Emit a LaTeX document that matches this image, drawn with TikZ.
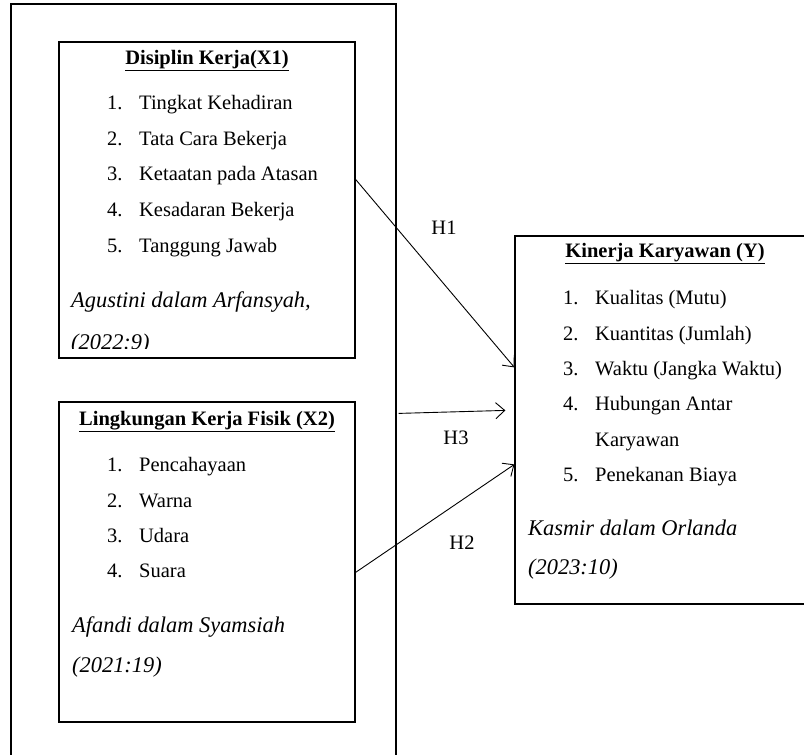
\documentclass[tikz,border=0pt]{standalone}
\usepackage{fontspec}
\setmainfont{Liberation Serif}
\usetikzlibrary{arrows.meta,calc}
\newcommand{\itm}[2]{\makebox[32pt][l]{#1}#2}
\begin{document}
\begin{tikzpicture}[x=1pt,y=-1pt,
  box/.style={draw,line width=1.2pt,inner sep=0,rectangle},
  txt/.style={anchor=mid west,inner sep=0,font=\fontsize{20.5}{24}\selectfont},
  ttl/.style={anchor=mid,inner sep=0,font=\fontsize{20.5}{24}\selectfont\bfseries},
  itx/.style={anchor=mid west,inner sep=0,font=\fontsize{22.4}{26}\selectfont\itshape},
  lbl/.style={anchor=center,inner sep=0,font=\fontsize{20.5}{24}\selectfont},
  arr/.style={-{Straight Barb[length=9pt,width=16pt]},line width=0.9pt}
]
\useasboundingbox (0,0) rectangle (804,755);
\clip (0,0) rectangle (804,755);

% outer frame
\node[box,minimum width=385pt,minimum height=792pt] (frame) at (203.5,400) {};

% X1 box
\node[box,minimum width=296pt,minimum height=316pt] (x1) at (207,200) {};
\node[ttl] (x1t) at (207,62) {\underline{Disiplin Kerja(X1)}};
\node[txt] (x1a) at (107,107) {\itm{1.}{Tingkat Kehadiran}};
\node[txt] (x1b) at (107,143) {\itm{2.}{Tata Cara Bekerja}};
\node[txt] (x1c) at (107,178) {\itm{3.}{Ketaatan pada Atasan}};
\node[txt] (x1d) at (107,214) {\itm{4.}{Kesadaran Bekerja}};
\node[txt] (x1e) at (107,250) {\itm{5.}{Tanggung Jawab}};
\node[itx] (x1s) at (71,305) {Agustini dalam Arfansyah,};
\begin{scope}
\clip (59,300) rectangle (355,348);
\node[itx] (x1y) at (71,347) {(2022:9)};
\end{scope}

% X2 box
\node[box,minimum width=296pt,minimum height=320pt] (x2) at (207,562) {};
\node[ttl] (x2t) at (207,423) {\underline{Lingkungan Kerja Fisik (X2)}};
\node[txt] (x2a) at (107,469) {\itm{1.}{Pencahayaan}};
\node[txt] (x2b) at (107,505) {\itm{2.}{Warna}};
\node[txt] (x2c) at (107,540) {\itm{3.}{Udara}};
\node[txt] (x2d) at (107,575) {\itm{4.}{Suara}};
\node[itx] (x2s) at (72,630) {Afandi dalam Syamsiah};
\node[itx] (x2y) at (72,670) {(2021:19)};

% Y box
\node[box,minimum width=310pt,minimum height=368pt] (y) at (670,420) {};
\node[ttl] (yt) at (665,255) {\underline{Kinerja Karyawan (Y)}};
\node[txt] (ya) at (563,302) {\itm{1.}{Kualitas (Mutu)}};
\node[txt] (yb) at (563,338) {\itm{2.}{Kuantitas (Jumlah)}};
\node[txt] (yc) at (563,373) {\itm{3.}{Waktu (Jangka Waktu)}};
\node[txt] (yd) at (563,408) {\itm{4.}{Hubungan Antar}};
\node[txt] (yd2) at (595,444) {Karyawan};
\node[txt] (ye) at (563,479) {\itm{5.}{Penekanan Biaya}};
\node[itx] (ys) at (528,533) {Kasmir dalam Orlanda};
\node[itx] (yy) at (528,572) {(2023:10)};

% arrows
\draw[arr] ($(x1.north east)+(0,138)$) -- ($(y.north west)+(0,132)$);
\draw[arr] ($(frame.north east)+(2,410)$) -- ($(y.north west)+(-9,175)$);
\draw[arr] ($(x2.north east)+(0,171)$) -- ($(y.north west)+(0,229)$);

\node[lbl] (h1) at (444,228) {H1};
\node[lbl] (h3) at (456,438) {H3};
\node[lbl] (h2) at (462,543) {H2};
\end{tikzpicture}
\end{document}
